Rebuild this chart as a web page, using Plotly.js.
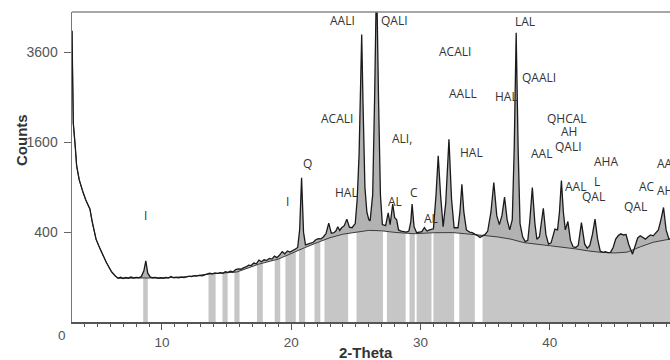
<!DOCTYPE html>
<html>
<head>
<meta charset="utf-8">
<script src="https://cdn.plot.ly/plotly-3.0.1.min.js"></script>
<style>
html,body{margin:0;padding:0;background:#fff;}
#chart{width:670px;height:360px;}
</style>
</head>
<body>
<div id="chart"></div>
<script>
// ---- measured XRD pattern (2-Theta vs Counts) ----
const patternTheta = [
  3.04, 3.08, 3.14, 3.3, 3.4, 3.6, 3.75, 3.9, 4.1, 4.25, 4.43, 4.6, 4.75, 4.9, 5.1, 5.3, 5.46, 5.7, 5.9, 6.1, 6.37, 6.6,
  6.8, 7.0, 7.2, 7.4, 7.6, 7.8, 8.0, 8.2, 8.4, 8.6, 8.75, 8.9, 9.1, 9.3, 9.5, 9.7, 9.9, 10.1, 10.3, 10.5, 10.7, 10.9, 11.1, 11.3, 11.5, 11.7, 11.9, 12.1, 12.3, 12.5, 12.7, 12.9,
  13.1, 13.3, 13.5, 13.7, 13.9, 14.1, 14.3, 14.5, 14.7, 14.9, 15.1, 15.3, 15.5, 15.7, 15.9, 16.1, 16.3, 16.5, 16.7, 16.9, 17.1, 17.3, 17.5, 17.7, 17.9, 18.1, 18.3, 18.5, 18.7, 18.9, 19.1, 19.3, 19.5, 19.7, 19.9, 20.1, 20.3, 20.5,
  20.65, 20.8, 20.95, 21.1, 21.3, 21.5, 21.7, 21.9, 22.1, 22.3, 22.5, 22.7, 22.9, 23.1, 23.3, 23.45, 23.6, 23.75, 23.9, 24.1, 24.3, 24.5, 24.7, 24.95,
  25.1, 25.25, 25.35, 25.45, 25.55, 25.7, 25.85, 26.0, 26.1, 26.3, 26.45, 26.6, 26.75, 26.9, 27.05, 27.3, 27.5, 27.65, 27.85, 28.0, 28.15, 28.3, 28.5, 28.7, 28.9,
  29.1, 29.25, 29.35, 29.5, 29.7, 29.9, 30.1, 30.3, 30.5, 30.7, 31.0, 31.2, 31.37, 31.55, 31.75, 31.95, 32.2, 32.4, 32.6, 32.9, 33.05, 33.2, 33.35, 33.55, 33.8, 34.0, 34.2, 34.4, 34.6, 34.8,
  35.0, 35.2, 35.45, 35.67, 35.9, 36.1, 36.3, 36.5, 36.7, 36.9, 37.1, 37.25, 37.4, 37.55, 37.7, 37.9, 38.1, 38.3, 38.45, 38.65, 38.85, 39.0, 39.2, 39.5, 39.7, 39.9, 40.1, 40.4, 40.6, 40.75, 40.9, 41.05, 41.2, 41.4, 41.6, 41.8,
  42.0, 42.2, 42.45, 42.7, 42.9, 43.1, 43.3, 43.5, 43.7, 43.9, 44.1, 44.3, 44.5, 44.7, 44.9, 45.1, 45.3, 45.5, 45.7, 45.9, 46.1, 46.4, 46.6, 46.8, 47.0, 47.2, 47.4, 47.6, 47.8, 48.0, 48.2, 48.4, 48.6, 48.8, 49.0, 49.2, 49.4
];
const patternCounts = [
  4200, 2600, 1960, 1500, 1206, 1000, 900, 830, 740, 690, 630, 500, 420, 340, 290, 240, 217, 175, 150, 125, 106, 95,
  99, 94, 98, 95, 100, 96, 99, 97, 102, 130, 185, 118, 100, 97, 99, 95, 97, 95, 98, 96, 103, 97, 99, 97, 100, 98, 101, 104, 102, 106, 104, 108,
  106, 110, 114, 118, 115, 119, 117, 121, 118, 125, 122, 128, 124, 136, 140, 138, 145, 150, 160, 158, 172, 168, 190, 180, 192, 188, 200, 196, 215, 205, 222, 245, 230, 250, 242, 255, 262, 275,
  420, 1030, 400, 295, 300, 308, 315, 335, 345, 342, 360, 390, 484, 390, 395, 410, 450, 415, 440, 460, 524, 445, 440, 480,
  740, 1400, 2600, 4096, 2400, 900, 600, 520, 507, 800, 2500, 6000, 2500, 800, 470, 460, 590, 470, 690, 540, 520, 420, 410, 405, 400,
  410, 500, 688, 450, 395, 400, 405, 442, 410, 420, 430, 800, 1367, 800, 450, 700, 1653, 750, 440, 440, 600, 940, 600, 420, 400, 395, 385, 370, 354, 370,
  380, 410, 600, 964, 560, 470, 560, 772, 520, 420, 520, 1500, 4145, 1500, 480, 360, 320, 330, 500, 895, 480, 340, 360, 641, 380, 300, 310, 427, 420, 600, 990, 600, 420, 500, 330, 280,
  275, 290, 490, 300, 270, 290, 380, 524, 340, 250, 240, 245, 238, 240, 275, 340, 370, 385, 375, 380, 300, 228, 290, 350, 368, 355, 340, 360, 375, 368, 390, 420, 520, 650, 420, 345, 340
];

// ---- fitted background curve ----
const bgTheta = [
  3.04, 3.08, 3.14, 3.3, 3.4, 3.6, 3.75, 3.9, 4.1, 4.25, 4.43, 4.6, 4.75, 4.9, 5.1, 5.3, 5.46, 5.7, 5.9, 6.1, 6.37, 6.6,
  8, 10, 12, 13.7, 15.8, 17.5, 19, 20, 21, 22, 23, 24, 25, 26, 27, 28, 29.5, 31, 32.5, 34, 35, 36, 37, 38, 39, 40, 41, 42, 43, 44, 45, 46, 47, 48, 49, 49.4
];
const bgCounts = [
  4200, 2600, 1960, 1500, 1206, 1000, 900, 830, 740, 690, 630, 500, 420, 340, 290, 240, 217, 175, 150, 125, 106, 95,
  96, 96, 102, 114, 124, 166, 196, 235, 272, 312, 352, 382, 402, 416, 412, 398, 386, 395, 396, 384, 370, 358, 340, 312, 300, 285, 278, 265, 250, 240, 236, 242, 280, 315, 335, 340
];

// ---- shaded background stripes (2-Theta ranges) ----
const stripeStart = [8.55, 13.6, 14.68, 15.6, 17.35, 18.72, 19.55, 20.6, 21.8, 22.57, 25.05, 27.4, 29.15, 29.7, 31.0, 33.0, 34.8];
const stripeEnd   = [8.9, 14.15, 15.08, 16.0, 17.8, 19.15, 20.35, 21.08, 22.25, 24.4, 27.1, 28.85, 29.56, 30.85, 32.6, 34.2, 49.4];

// ---- phase labels ----
const labelText   = ['I', 'I', 'Q', 'HAL', 'ACALI', 'AALI', 'QALI', 'ALI,', 'AL', 'C', 'AL', 'ACALI', 'AALL', 'HAL', 'HAL', 'LAL', 'QAALI', 'QHCAL', 'AH', 'QALI', 'AAL', 'AHA', 'AA', 'AAL', 'L', 'QAL', 'QAL', 'AC', 'AH'];
const labelTheta  = [8.76, 19.74, 21.22, 24.31, 23.57, 23.96, 28.02, 28.56, 28.06, 29.49, 30.8, 32.66, 33.3, 33.98, 36.66, 38.07, 39.2, 41.32, 41.48, 41.42, 39.37, 44.34, 48.9, 41.98, 43.62, 43.41, 46.62, 47.55, 48.9];
const labelCounts = [567, 725, 1237, 837, 2056, 4517, 4497, 1672, 717, 837, 533, 3619, 2591, 1420, 2514, 4467, 2966, 2056, 1807, 1522, 1410, 1273, 1237, 916, 975, 778, 659, 916, 863];

const xTickVals = [10, 20, 30, 40];
const yTickCounts = [400, 1600, 3600];

// square-root counts scale
const sq = v => Math.sqrt(v);
const bgSq = bgCounts.map(sq);

function bgAt(t) {
  for (let i = 0; i < bgTheta.length - 1; i++) {
    if (t >= bgTheta[i] && t <= bgTheta[i + 1]) {
      const f = (t - bgTheta[i]) / (bgTheta[i + 1] - bgTheta[i]);
      return bgSq[i] + f * (bgSq[i + 1] - bgSq[i]);
    }
  }
  return bgSq[bgSq.length - 1];
}

const sx = [], sy = [];
for (let k = 0; k < stripeStart.length; k++) {
  const a = stripeStart[k], b = stripeEnd[k];
  sx.push(a); sy.push(0);
  sx.push(a); sy.push(bgAt(a));
  for (let i = 0; i < bgTheta.length; i++) {
    if (bgTheta[i] > a && bgTheta[i] < b) { sx.push(bgTheta[i]); sy.push(bgSq[i]); }
  }
  sx.push(b); sy.push(bgAt(b));
  sx.push(b); sy.push(0);
  sx.push(null); sy.push(null);
}

const traces = [
  {type: 'scatter', mode: 'lines', x: sx, y: sy, fill: 'toself', fillcolor: '#c6c6c6',
   line: {width: 0, color: 'rgba(0,0,0,0)'}, hoverinfo: 'skip', connectgaps: false},
  {type: 'scatter', mode: 'lines', x: bgTheta, y: bgSq, line: {color: '#3a3a3a', width: 1}, hoverinfo: 'skip'},
  {type: 'scatter', mode: 'lines', x: patternTheta, y: patternCounts.map(sq), fill: 'tonexty', fillcolor: '#b2b2b2',
   line: {color: '#1a1a1a', width: 1.3}}
];

const labelFont = {family: 'Open Sans, sans-serif', size: 12, color: '#333'};
const annotations = labelText.map((t, i) => ({
  text: t, x: labelTheta[i], y: sq(labelCounts[i]), xref: 'x', yref: 'y',
  showarrow: false, font: labelFont, xanchor: 'center', yanchor: 'middle'
}));
const titleFont = {family: 'Liberation Sans, Arial, sans-serif', size: 15, color: '#333', weight: 'bold'};
annotations.push({
  text: 'Counts', xref: 'paper', yref: 'paper', x: -0.0853, y: 0.587, textangle: -90,
  showarrow: false, font: titleFont, xanchor: 'center', yanchor: 'middle'
});
annotations.push({
  text: '2-Theta', xref: 'paper', yref: 'paper', x: 0.4916, y: -0.097,
  showarrow: false, font: titleFont, xanchor: 'center', yanchor: 'middle'
});
annotations.push({
  text: '0', xref: 'paper', yref: 'paper', x: -0.0167, y: -0.042,
  showarrow: false, font: {family: 'Liberation Sans, Arial, sans-serif', size: 13.5, color: '#555'},
  xanchor: 'center', yanchor: 'middle'
});

const tickFont = {family: 'Liberation Sans, Arial, sans-serif', size: 13.5, color: '#555'};
const yTickFont = {family: 'Liberation Sans, Arial, sans-serif', size: 14, color: '#555'};

const layout = {
  width: 670, height: 360,
  margin: {l: 72, r: 0, t: 12, b: 38},
  paper_bgcolor: '#fff', plot_bgcolor: '#fff',
  showlegend: false,
  xaxis: {
    range: [3.04, 49.3], tickvals: xTickVals, ticktext: xTickVals.map(String),
    ticks: 'outside', ticklen: 6, tickwidth: 1, tickcolor: '#555',
    showline: true, linecolor: '#555', linewidth: 1.5,
    showgrid: false, zeroline: false, tickfont: tickFont, ticklabelstandoff: 1,
    minor: {dtick: 1, tick0: 0, ticks: 'outside', ticklen: 3, tickwidth: 1, tickcolor: '#555', showgrid: false}
  },
  yaxis: {
    range: [0, 69], tickvals: yTickCounts.map(sq), ticktext: yTickCounts.map(String),
    ticks: 'outside', ticklen: 7, tickwidth: 1, tickcolor: '#666',
    showline: true, linecolor: '#777', linewidth: 1.5,
    showgrid: false, zeroline: false, tickfont: yTickFont, ticklabelstandoff: 3
  },
  shapes: [
    {type: 'line', xref: 'paper', yref: 'paper', x0: 0, x1: 1, y0: 1, y1: 1, line: {color: '#8a8a8a', width: 1.5}}
  ],
  annotations: annotations
};

Plotly.newPlot('chart', traces, layout, {staticPlot: true, displayModeBar: false});
</script>
</body>
</html>
